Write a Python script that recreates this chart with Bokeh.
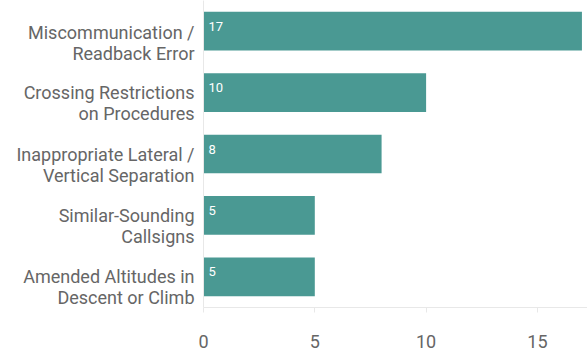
from bokeh.plotting import figure
from bokeh.models import ColumnDataSource, FactorRange, Range1d, LabelSet, FixedTicker
from bokeh.core.properties import value
from bokeh.embed import file_html
from bokeh.resources import INLINE

categories = [
    "Miscommunication /\nReadback Error",
    "Crossing Restrictions\non Procedures",
    "Inappropriate Lateral /\nVertical Separation",
    "Similar-Sounding\nCallsigns",
    "Amended Altitudes in\nDescent or Climb",
]
counts = [17, 10, 8, 5, 5]
x_ticks = [0, 5, 10, 15]

BAR = "#4a9993"
GRAY_TEXT = "#666666"
LINE = "#e8e8e8"
FONT = "Roboto"

# a leading blank line lowers the label block towards the bar centre
factors = ["\n" + c for c in categories]

src = ColumnDataSource(dict(
    cat=factors,
    count=counts,
    label=[str(c) for c in counts],
    zero=[0] * len(counts),
))

p = figure(
    width=587, height=350,
    y_range=FactorRange(factors=factors[::-1]),
    x_range=Range1d(0, 17.25),
    output_backend="svg", toolbar_location=None,
    min_border_left=203, min_border_right=0,
    min_border_top=0, min_border_bottom=42,
)
p.outline_line_color = None
p.xgrid.grid_line_color = None
p.ygrid.grid_line_color = None

p.hbar(y="cat", left=0, right="count", height=0.63, source=src,
       fill_color=BAR, line_color=None)

p.add_layout(LabelSet(x="zero", y="cat", source=src, text="label",
                      x_offset=5, y_offset=5, text_align="left",
                      text_baseline="middle", text_font=value(FONT),
                      text_font_size=value("13px"), text_color="white"))

xa = p.xaxis[0]
xa.ticker = FixedTicker(ticks=x_ticks)
xa.axis_line_color = LINE
xa.major_tick_line_color = LINE
xa.major_tick_out = 5
xa.major_tick_in = 0
xa.minor_tick_line_color = None
xa.major_label_text_font = FONT
xa.major_label_text_font_size = "18px"
xa.major_label_text_color = GRAY_TEXT
xa.major_label_standoff = 22

ya = p.yaxis[0]
ya.axis_line_color = LINE
ya.major_tick_line_color = None
ya.minor_tick_line_color = None
ya.major_tick_out = 0
ya.major_label_standoff = 9
ya.major_label_text_font = FONT
ya.major_label_text_font_size = "18px"
ya.major_label_text_line_height = 1.0
ya.major_label_text_color = GRAY_TEXT

open("out.html", "w").write(file_html(p, INLINE))
